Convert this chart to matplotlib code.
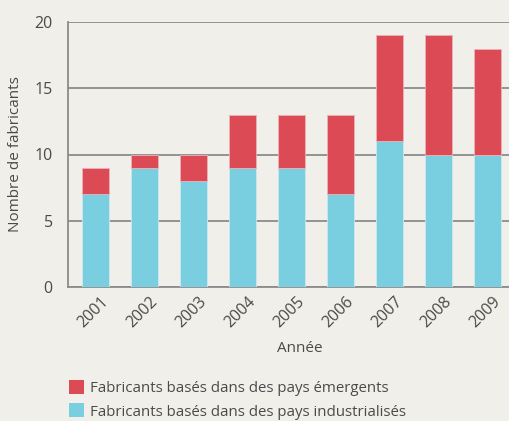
import numpy as np
import matplotlib.pyplot as plt
import matplotlib.transforms as mtransforms
from matplotlib.patches import Patch

# data
years = ['2001', '2002', '2003', '2004', '2005', '2006', '2007', '2008', '2009']
industrialises = [7, 9, 8, 9, 9, 7, 11, 10, 10]
emergents = [2, 1, 2, 4, 4, 6, 8, 9, 8]
y_ticks = [0, 5, 10, 15, 20]

# styles
bg = '#f0efea'
col_blue = '#79cfdf'
col_red = '#dc4b55'
grid_col = '#8c8c8c'
text_col = '#4a4a4a'
plt.rcParams['font.family'] = ['Open Sans', 'DejaVu Sans']

fig = plt.figure(figsize=(5.09, 4.21), dpi=100, facecolor=bg)
ax = fig.add_axes([68 / 509, 1 - 287 / 421, 1 - 68 / 509, (287 - 22) / 421])
ax.set_facecolor(bg)

x = np.arange(len(years))
w = 0.55
ax.bar(x, industrialises, width=w, color=col_blue, edgecolor='#c9e9ef', linewidth=0.6, zorder=3)
ax.bar(x, emergents, width=w, bottom=industrialises, color=col_red, edgecolor='#ecb3b6',
       linewidth=0.6, zorder=3)

ax.set_xlim(-0.56, len(years) - 1 + 0.44)
ax.set_ylim(0, 20)
ax.set_yticks(y_ticks)
ax.yaxis.grid(True, color=grid_col, linewidth=1.3, zorder=1)
ax.set_axisbelow(True)
for s in ['top', 'right']:
    ax.spines[s].set_visible(False)
for s in ['left', 'bottom']:
    ax.spines[s].set_color(grid_col)
    ax.spines[s].set_linewidth(1.3)

ax.tick_params(axis='both', length=0, labelsize=11.5, labelcolor=text_col)
ax.tick_params(axis='y', pad=11)
ax.set_xticks(x)
ax.set_xticklabels(years, rotation=45, ha='right', va='top', rotation_mode='anchor')
ax.tick_params(axis='x', pad=5)
# shift year labels a bit to the right
offset = mtransforms.ScaledTranslation(0.05, 0, fig.dpi_scale_trans)
for lab in ax.get_xticklabels():
    lab.set_transform(lab.get_transform() + offset)

ax.set_ylabel('Nombre de fabricants', fontsize=11, color=text_col, labelpad=8)
ax.set_xlabel('Année', fontsize=11, color=text_col)
ax.xaxis.set_label_coords((300 - 68) / 441, -0.205)

handles = [Patch(facecolor=col_red, label='Fabricants basés dans des pays émergents'),
           Patch(facecolor=col_blue, label='Fabricants basés dans des pays industrialisés')]
fig.legend(handles=handles, loc='lower left', bbox_to_anchor=(67 / 509, 0.0), frameon=False,
           fontsize=10.8, labelcolor=text_col, handlelength=1.05, handleheight=1.05,
           handletextpad=0.4, labelspacing=0.5, borderpad=0.1, borderaxespad=0)

fig.savefig('out.png', dpi=100, facecolor=bg)
